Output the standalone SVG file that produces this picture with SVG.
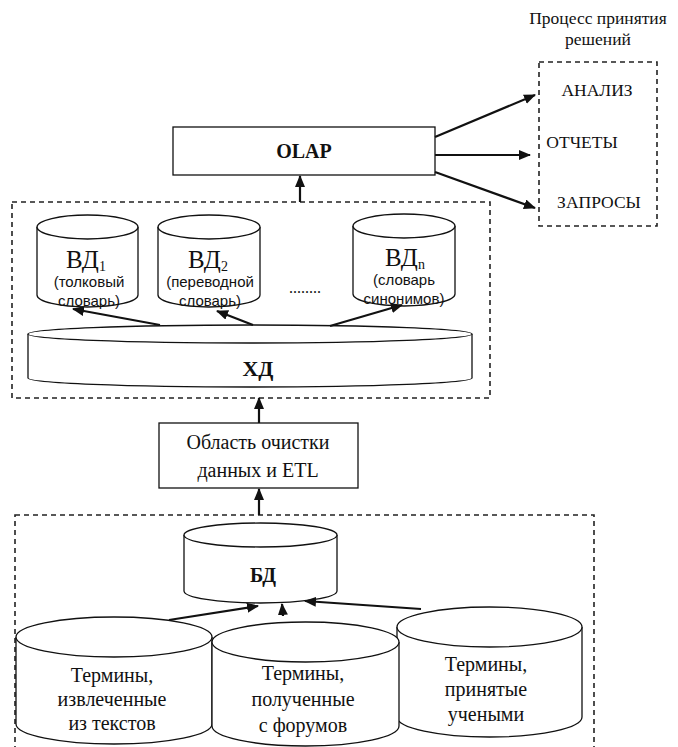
<svg xmlns="http://www.w3.org/2000/svg" width="678" height="747" viewBox="0 0 678 747">
<defs>
<marker id="ah" markerUnits="userSpaceOnUse" markerWidth="12" markerHeight="10" refX="11" refY="5" orient="auto">
<path d="M0,0 L12,5 L0,10 Z" fill="#111"/>
</marker>
<style>
.bg{fill:#fff}
.dash{fill:none;stroke:#222;stroke-width:1.6;stroke-dasharray:5,4}
.shape{fill:#fff;stroke:#111;stroke-width:1.3}
.t{font-family:"Liberation Serif","Times New Roman",serif;fill:#111;text-anchor:middle}
.s{font-family:"Liberation Sans",Arial,sans-serif;fill:#111;text-anchor:middle}
.b{font-weight:bold}
.conn line{stroke:#111;stroke-width:2.2;marker-end:url(#ah)}
</style>
</defs>
<rect class="bg" x="0" y="0" width="678" height="747"/>

<g id="decision-area">
<text class="t" x="598" y="24" font-size="17.5">Процесс принятия</text>
<text class="t" x="598" y="45" font-size="17.5">решений</text>
<rect class="dash" x="539" y="62" width="118" height="164"/>
<text class="t" x="597" y="96" font-size="17.5">АНАЛИЗ</text>
<text class="t" x="582" y="148" font-size="17.5">ОТЧЕТЫ</text>
<text class="t" x="599" y="208" font-size="17.5">ЗАПРОСЫ</text>
</g>

<g id="olap">
<rect class="shape" x="173" y="127" width="262" height="48"/>
<text class="t b" x="304" y="158" font-size="20">OLAP</text>
</g>

<g id="dw-area">
<rect class="dash" x="12" y="202" width="478" height="196"/>
</g>

<g id="vd1">
<path class="shape" d="M37,227 L37,295 A50.5,12 0 0 0 138,295 L138,227"/>
<ellipse class="shape" cx="87.5" cy="227" rx="50.5" ry="12"/>
<text class="t" x="86" y="268" font-size="25">ВД<tspan font-size="14" dy="3">1</tspan></text>
<text class="s" x="89" y="287" font-size="15">(толковый</text>
<text class="s" x="89" y="306" font-size="15">словарь)</text>
</g>

<g id="vd2">
<path class="shape" d="M158,227 L158,295 A51,12 0 0 0 260,295 L260,227"/>
<ellipse class="shape" cx="209" cy="227" rx="51" ry="12"/>
<text class="t" x="208" y="268" font-size="25">ВД<tspan font-size="14" dy="3">2</tspan></text>
<text class="s" x="210" y="287" font-size="15">(переводной</text>
<text class="s" x="210" y="306" font-size="15">словарь)</text>
</g>

<text class="t" x="305" y="293" font-size="16">........</text>

<g id="vdn">
<path class="shape" d="M353,226 L353,294 A51,12 0 0 0 455,294 L455,226"/>
<ellipse class="shape" cx="404" cy="226" rx="51" ry="12"/>
<text class="t" x="405" y="266" font-size="25">ВД<tspan font-size="14" dy="3">n</tspan></text>
<text class="s" x="404" y="285" font-size="15">(словарь</text>
<text class="s" x="404" y="304" font-size="15">синонимов)</text>
</g>

<g id="xd">
<path class="shape" d="M28,334 L28,378 A222,9 0 0 0 472,378 L472,334"/>
<ellipse class="shape" cx="250" cy="334" rx="222" ry="9"/>
<text class="t b" x="258" y="376" font-size="22">ХД</text>
</g>

<g id="etl">
<rect class="shape" x="159" y="423" width="199" height="65"/>
<text class="t" x="258" y="449" font-size="20">Область очистки</text>
<text class="t" x="258" y="477" font-size="20">данных и ETL</text>
</g>

<g id="db-area">
<rect class="dash" x="15" y="515" width="579" height="250"/>
</g>

<g id="bd">
<path class="shape" d="M184,535 L184,591 A76.5,12 0 0 0 337,591 L337,535"/>
<ellipse class="shape" cx="260.5" cy="535" rx="76.5" ry="12"/>
<text class="t b" x="263" y="582" font-size="20">БД</text>
</g>

<g id="terms3">
<path class="shape" d="M397,627 L397,717 A92.5,20 0 0 0 582,717 L582,627"/>
<ellipse class="shape" cx="489.5" cy="627" rx="92.5" ry="20"/>
<text class="t" x="486" y="671" font-size="20">Термины,</text>
<text class="t" x="486" y="696" font-size="20">принятые</text>
<text class="t" x="486" y="721" font-size="20">учеными</text>
</g>

<g id="terms1">
<path class="shape" d="M16,637 L16,724 A98,20 0 0 0 212,724 L212,637"/>
<ellipse class="shape" cx="114" cy="637" rx="98" ry="20"/>
<text class="t" x="112" y="682" font-size="20">Термины,</text>
<text class="t" x="112" y="706" font-size="20">извлеченные</text>
<text class="t" x="112" y="730" font-size="20">из текстов</text>
</g>

<g id="terms2">
<path class="shape" d="M212,642 L212,726 A93.5,20 0 0 0 399,726 L399,642"/>
<ellipse class="shape" cx="305.5" cy="642" rx="93.5" ry="20"/>
<text class="t" x="303" y="680" font-size="20">Термины,</text>
<text class="t" x="303" y="706" font-size="20">полученные</text>
<text class="t" x="303" y="732" font-size="20">с форумов</text>
</g>

<g id="connectors" class="conn">
<line x1="435" y1="137" x2="535" y2="95"/>
<line x1="435" y1="155" x2="530" y2="155"/>
<line x1="435" y1="172" x2="535" y2="208"/>
<line x1="300" y1="202" x2="300" y2="176"/>
<line x1="160" y1="325" x2="73" y2="309"/>
<line x1="253" y1="325" x2="217" y2="311"/>
<line x1="330" y1="326" x2="402" y2="305"/>
<line x1="259" y1="423" x2="259" y2="398"/>
<line x1="259" y1="515" x2="259" y2="489"/>
<line x1="169" y1="620" x2="258" y2="606"/>
<line x1="283" y1="616" x2="282" y2="604"/>
<line x1="421" y1="609" x2="305" y2="601"/>
</g>
</svg>
